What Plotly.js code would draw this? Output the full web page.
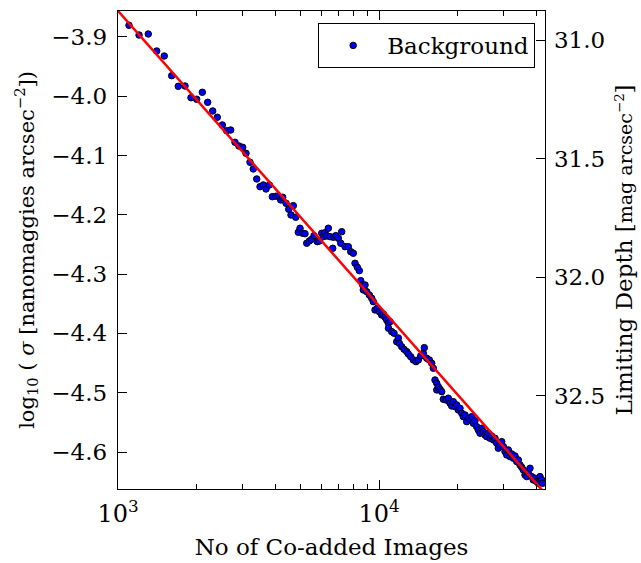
<!DOCTYPE html>
<html>
<head>
<meta charset="utf-8">
<script src="https://cdn.plot.ly/plotly-3.0.1.min.js"></script>
<style>html,body{margin:0;padding:0;background:#fff;}#chart{width:641px;height:563px;}</style>
</head>
<body>
<div id="chart"></div>
<script>
// Number of co-added images
const nImages = [1102,1204,1306,1407,1504,1606,1702,1806,1904,2002,2104,2206,2306,2401,2510,2609,2702,2807,2907,3004,
3093,3204,3298,3400,3500,3604,3691,3800,3902,4020,4114,4202,4276,4403,4509,4601,4696,4796,4907,4982,
5102,5206,5285,5408,5523,5637,5803,5907,6033,6119,6211,6305,6395,6492,6648,6683,6827,6985,7134,7197,
7410,7629,7792,7972,8093,8259,8406,8510,8662,8708,8839,8973,9181,9378,9511,9655,9851,10027,10241,10387,
10543,10703,10855,10870,11019,11185,11415,11690,11856,11961,12217,12468,12769,12950,13228,13535,13861,14145,14448,14783,
14914,15233,15586,15920,16146,16390,16638,16650,16874,17129,17388,17635,18059,18430,18709,18992,19262,19553,19848,20130,
20434,20743,21038,21356,21678,22122,22655,22977,23324,23677,24013,24376,24744,25096,25476,25861,26229,26626,27028,27412,
27826,28247,28649,29082,29521,29943,30396,30855,31293,31766,32246,32704,33198,33699,34179,34695,35219,35720,36261,36808,
37330,37893,38466,39013,39603,40203,40773,41389,42016,42388];
// log10 of background sigma [nanomaggies arcsec^-2]
const logSigma = [-3.8803,-3.8967,-3.8950,-3.9237,-3.9321,-3.9653,-3.9832,-3.9827,-4.0024,-4.0051,-3.9933,-4.0102,-4.0248,-4.0355,-4.0484,-4.0581,-4.0569,-4.0776,-4.0839,-4.0861,
-4.0962,-4.1113,-4.1226,-4.1395,-4.1525,-4.1496,-4.1564,-4.1496,-4.1694,-4.1687,-4.1682,-4.1749,-4.1704,-4.1805,-4.1906,-4.2002,-4.1845,-4.2041,-4.2294,-4.2226,
-4.2311,-4.2318,-4.2479,-4.2441,-4.2412,-4.2351,-4.2452,-4.2441,-4.2311,-4.2368,-4.2301,-4.2356,-4.2226,-4.2368,-4.2564,-4.2378,-4.2351,-4.2395,-4.2479,-4.2284,
-4.2537,-4.2537,-4.2621,-4.2648,-4.2817,-4.2884,-4.2941,-4.3110,-4.3183,-4.3267,-4.3183,-4.3296,-4.3351,-4.3407,-4.3464,-4.3604,-4.3576,-4.3633,-4.3689,-4.3672,
-4.3727,-4.3773,-4.3828,-4.3913,-4.3802,-4.3970,-4.3997,-4.4139,-4.4076,-4.4166,-4.4223,-4.4267,-4.4307,-4.4346,-4.4392,-4.4447,-4.4476,-4.4447,-4.4380,-4.4334,
-4.4240,-4.4419,-4.4447,-4.4503,-4.4587,-4.4785,-4.4840,-4.4953,-4.4898,-4.4941,-4.4982,-4.5110,-4.5122,-4.5093,-4.5178,-4.5223,-4.5151,-4.5235,-4.5206,-4.5291,
-4.5262,-4.5346,-4.5404,-4.5375,-4.5488,-4.5431,-4.5404,-4.5515,-4.5471,-4.5572,-4.5628,-4.5683,-4.5599,-4.5656,-4.5712,-4.5741,-4.5683,-4.5768,-4.5729,-4.5796,
-4.5768,-4.5852,-4.5936,-4.5881,-4.5825,-4.5909,-4.5994,-4.6049,-4.5965,-4.6078,-4.6033,-4.6105,-4.6066,-4.6162,-4.6134,-4.6218,-4.6257,-4.6302,-4.6387,-4.6415,
-4.6358,-4.6274,-4.6415,-4.6471,-4.6442,-4.6500,-4.6527,-4.6415,-4.6471,-4.6527];
// fitted relation (red line) end points
const fitN = [950, 46000];
const fitLogSigma = [-3.845, -4.683];
// axis ticks
const xTickVals = [1000, 10000];
const xTickText = ['10<sup>3</sup>', '10<sup>4</sup>'];
const xMinorVals = [2000,3000,4000,5000,6000,7000,8000,9000,20000,30000,40000];
const yTickVals = [-3.9,-4.0,-4.1,-4.2,-4.3,-4.4,-4.5,-4.6];
const depthTickVals = [31.0, 31.5, 32.0, 32.5];

const FONT = 'DejaVu Serif, serif';
const traces = [
  {x: nImages, y: logSigma, type: 'scatter', mode: 'markers', name: 'Background',
   marker: {color: '#0000ff', size: 6.5, line: {color: '#000000', width: 1}}},
  {x: fitN, y: fitLogSigma, type: 'scatter', mode: 'lines', showlegend: false,
   line: {color: '#ff0000', width: 2.5}, hoverinfo: 'skip'},
  // empty trace so that the twin (top / right) axes are drawn
  {x: [], y: [], xaxis: 'x2', yaxis: 'y2', type: 'scatter', mode: 'markers', showlegend: false, hoverinfo: 'skip'}
];
const tickStyle = {ticks: 'inside', ticklen: 9, tickwidth: 1, tickcolor: '#000000', showgrid: false, zeroline: false,
  showline: true, linecolor: '#000000', linewidth: 1.3};
const layout = {
  width: 641, height: 563,
  margin: {l: 118, r: 96, t: 11, b: 74, pad: 0},
  paper_bgcolor: '#ffffff', plot_bgcolor: '#ffffff',
  font: {family: FONT, size: 23, color: '#000000'},
  showlegend: true,
  legend: {x: 0.977, y: 0.975, xanchor: 'right', yanchor: 'top', itemwidth: 58,
    bgcolor: '#ffffff', bordercolor: '#000000', borderwidth: 1,
    font: {family: FONT, size: 23, color: '#000000'}},
  xaxis: Object.assign({}, tickStyle, {type: 'log', range: [3, 4.636],
    tickmode: 'array', tickvals: xTickVals, ticktext: xTickText, ticklabelstandoff: 3,
    minor: {tickmode: 'array', tickvals: xMinorVals, ticks: 'inside', ticklen: 5, tickwidth: 1, tickcolor: '#000000', showgrid: false},
    tickfont: {size: 24},
    title: {text: 'No of Co-added Images', font: {size: 23}, standoff: 11}}),
  xaxis2: Object.assign({}, tickStyle, {type: 'log', range: [3, 4.636], overlaying: 'x', side: 'top',
    tickmode: 'array', tickvals: xTickVals, showticklabels: false,
    minor: {tickmode: 'array', tickvals: xMinorVals, ticks: 'inside', ticklen: 5, tickwidth: 1, tickcolor: '#000000', showgrid: false}}),
  yaxis: Object.assign({}, tickStyle, {range: [-4.6624, -3.8562], ticklabelstandoff: 5,
    tickmode: 'array', tickvals: yTickVals, tickformat: '.1f', tickfont: {size: 23},
    title: {text: 'log<sub>10</sub> ( <i>σ</i> [nanomaggies arcsec<sup>−2</sup>])', font: {size: 21}, standoff: 11}}),
  yaxis2: Object.assign({}, tickStyle, {overlaying: 'y', side: 'right', range: [32.893, 30.877], ticklabelstandoff: 3,
    tickmode: 'array', tickvals: depthTickVals, tickformat: '.1f', tickfont: {size: 23},
    title: {text: 'Limiting Depth [<span style="font-size:19px">mag arcsec<sup>−2</sup></span>]', font: {size: 23}, standoff: 11}})
};
Plotly.newPlot('chart', traces, layout, {displayModeBar: false, staticPlot: true});
</script>
</body>
</html>
